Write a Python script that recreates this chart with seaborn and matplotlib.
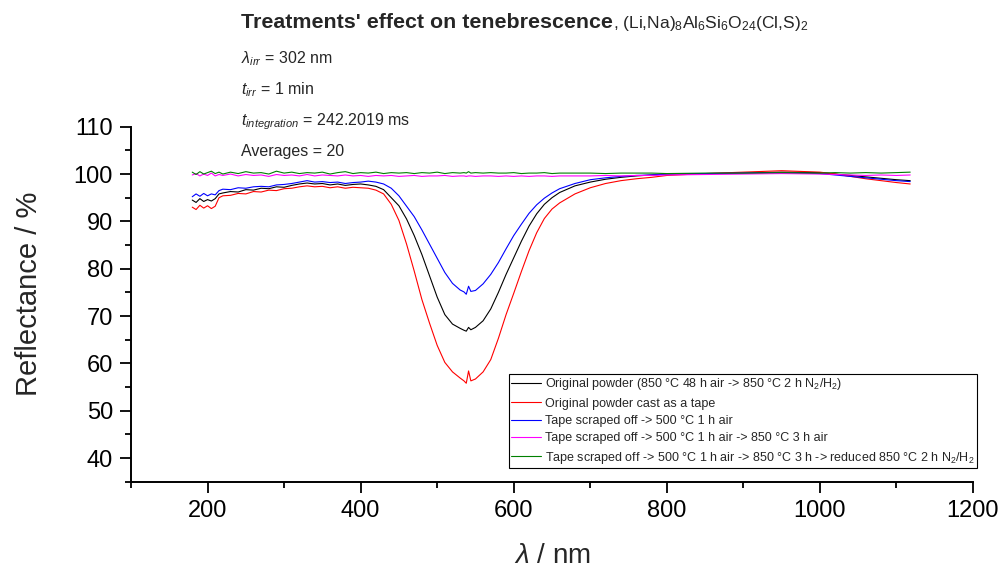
import numpy as np
import pandas as pd
import matplotlib
matplotlib.use("Agg")
import matplotlib.pyplot as plt
from matplotlib.ticker import MultipleLocator
import seaborn as sns

# wavelength grid (nm)
wl = [180, 185, 190, 195, 200, 205, 210, 215, 220, 230,
      240, 250, 260, 270, 280, 290, 300, 310, 320, 330,
      340, 350, 360, 370, 380, 390, 400, 410, 420, 430,
      440, 450, 460, 470, 480, 490, 500, 510, 520, 530,
      535, 538, 541, 544, 550, 560, 570, 580, 590, 600,
      610, 620, 630, 640, 650, 660, 680, 700, 720, 740,
      760, 780, 800, 850, 900, 950, 1000, 1020, 1040, 1060,
      1080, 1100, 1118]

# reflectance (%)
r_original = [94.5, 94.0, 94.8, 94.2, 94.6, 94.3, 94.8, 95.8, 96.0, 96.3,
              96.2, 96.7, 96.6, 97.0, 96.9, 97.3, 97.2, 97.6, 97.9, 98.1,
              97.9, 98.0, 97.7, 97.9, 97.6, 97.8, 97.9, 97.7, 97.4, 96.7,
              95.0, 93.3, 90.5, 87.0, 83.0, 78.5, 74.0, 70.3, 68.3, 67.4,
              67.0, 66.8, 67.6, 67.1, 67.6, 69.0, 71.5, 75.0, 78.8, 82.3,
              85.8, 89.0, 91.6, 93.6, 95.0, 96.1, 97.5, 98.3, 98.9, 99.3,
              99.6, 99.8, 100.0, 100.1, 100.2, 100.4, 100.3, 100.0, 99.7, 99.4,
              99.1, 98.8, 98.6]
r_tape = [93.0, 92.5, 93.4, 92.8, 93.3, 92.7, 93.2, 95.0, 95.4, 95.5,
          95.9, 95.8, 96.3, 96.2, 96.6, 96.5, 96.9, 97.0, 97.3, 97.5,
          97.3, 97.4, 97.1, 97.3, 97.0, 97.2, 97.1, 97.0, 96.6, 95.8,
          93.6, 90.2, 85.2, 79.5, 73.5, 68.5, 63.8, 60.2, 58.2, 56.9,
          56.3, 55.8, 58.4, 56.3, 56.7, 58.2, 60.8, 65.3, 70.3, 74.8,
          79.4, 83.8, 87.6, 90.6, 92.6, 93.9, 95.8, 97.1, 98.0, 98.6,
          99.0, 99.3, 99.7, 100.1, 100.4, 100.7, 100.4, 100.0, 99.5, 99.0,
          98.6, 98.2, 97.9]
r_500air = [95.2, 95.8, 95.3, 95.9, 95.4, 95.8, 95.6, 96.5, 96.8, 96.7,
            97.1, 97.0, 97.3, 97.4, 97.3, 97.7, 97.8, 98.0, 98.3, 98.6,
            98.3, 98.4, 98.2, 98.3, 98.0, 98.2, 98.3, 98.5, 98.3, 97.9,
            97.0, 95.4, 93.2, 91.0, 88.2, 85.2, 82.2, 79.2, 76.9, 75.5,
            75.1, 74.6, 76.3, 75.2, 75.4, 76.8, 78.8, 81.3, 84.2, 87.0,
            89.4, 91.7, 93.5, 94.9, 96.0, 96.9, 98.0, 98.8, 99.2, 99.5,
            99.7, 99.8, 100.0, 100.1, 100.2, 100.3, 100.1, 99.8, 99.5, 99.2,
            98.9, 98.6, 98.4]
r_850air = [99.8, 100.1, 99.6, 100.0, 99.7, 100.2, 99.6, 99.9, 99.7, 100.0,
            99.6, 99.9, 99.7, 99.8, 99.5, 99.9, 99.7, 99.8, 99.6, 99.9,
            99.6, 99.8, 99.7, 99.6, 99.8, 99.6, 99.7, 99.5, 99.7, 99.6,
            99.7, 99.5, 99.6, 99.7, 99.5, 99.6, 99.6, 99.7, 99.5, 99.6,
            99.6, 99.5, 99.6, 99.6, 99.5, 99.6, 99.6, 99.5, 99.6, 99.5,
            99.6, 99.5, 99.6, 99.6, 99.5, 99.6, 99.6, 99.6, 99.7, 99.6,
            99.7, 99.7, 99.8, 99.9, 100.0, 100.1, 100.0, 99.9, 99.8, 99.7,
            99.8, 99.7, 99.8]
r_reduced = [100.4, 99.9, 100.5, 100.0, 100.3, 100.6, 100.1, 100.4, 100.0, 100.4,
             100.1, 100.5, 100.2, 100.3, 100.0, 100.6, 100.2, 100.4, 100.1, 100.3,
             100.2, 100.4, 100.0, 100.3, 100.5, 100.1, 100.3, 100.2, 100.4, 100.1,
             100.3, 100.2, 100.3, 100.1, 100.3, 100.2, 100.4, 100.1, 100.3, 100.2,
             100.3, 100.2, 100.5, 100.2, 100.3, 100.2, 100.3, 100.2, 100.2, 100.3,
             100.1, 100.2, 100.2, 100.3, 100.1, 100.2, 100.2, 100.2, 100.1, 100.2,
             100.2, 100.2, 100.1, 100.2, 100.2, 100.3, 100.2, 100.3, 100.2, 100.3,
             100.2, 100.3, 100.4]

labels = [
    "Original powder (850 °C 48 h air -> 850 °C 2 h N$_2$/H$_2$)",
    "Original powder cast as a tape",
    "Tape scraped off -> 500 °C 1 h air",
    "Tape scraped off -> 500 °C 1 h air -> 850 °C 3 h air",
    "Tape scraped off -> 500 °C 1 h air -> 850 °C 3 h -> reduced 850 °C 2 h N$_2$/H$_2$",
]
series = [r_original, r_tape, r_500air, r_850air, r_reduced]
colors = ["#000000", "#ff0000", "#0000ff", "#ff00ff", "#008000"]

df = pd.concat([pd.DataFrame({"wl": wl, "R": s, "sample": lab})
                for s, lab in zip(series, labels)], ignore_index=True)

sns.set_style("ticks")
plt.rcParams["font.family"] = ["Liberation Sans", "DejaVu Sans"]
plt.rcParams["mathtext.fontset"] = "custom"
plt.rcParams["mathtext.rm"] = "Liberation Sans"
plt.rcParams["mathtext.it"] = "Liberation Sans:italic"
plt.rcParams["mathtext.bf"] = "Liberation Sans:bold"

W, H = 1003, 573
fig = plt.figure(figsize=(W / 100, H / 100), dpi=100)
ax = fig.add_axes([131 / W, 1 - 481.7 / H, 842 / W, 355 / H])

sns.lineplot(data=df, x="wl", y="R", hue="sample", hue_order=labels,
             palette=colors, linewidth=0.8, ax=ax, sort=False)

ax.set_xlim(100, 1200)
ax.set_ylim(35, 110)
ax.xaxis.set_major_locator(MultipleLocator(200))
ax.xaxis.set_minor_locator(MultipleLocator(100))
ax.yaxis.set_major_locator(MultipleLocator(10))
ax.yaxis.set_minor_locator(MultipleLocator(5))
ax.tick_params(which="major", length=8, width=1.3, labelsize=17, color="black",
               labelcolor="black", pad=5)
ax.tick_params(which="minor", length=4, width=1.3, color="black")
for side in ["top", "right"]:
    ax.spines[side].set_visible(False)
for side in ["left", "bottom"]:
    ax.spines[side].set_linewidth(1.4)
    ax.spines[side].set_color("black")

ax.set_xlabel(r"$\lambda$ / nm", fontsize=20)
ax.set_ylabel("Reflectance / %", fontsize=21)
ax.xaxis.set_label_coords(0.5, -0.172)
ax.yaxis.set_label_coords(-0.105, 0.53)

handles, labs = ax.get_legend_handles_labels()
leg = ax.legend(handles, labs, loc="lower right",
                bbox_to_anchor=(977 / W, 1 - 468 / H), bbox_transform=fig.transFigure,
                fontsize=9, frameon=True, fancybox=False, edgecolor="black",
                framealpha=1, borderpad=0.2, handlelength=2.4, handletextpad=0.3,
                labelspacing=0.42, borderaxespad=0)
leg.get_frame().set_linewidth(0.8)

# title and measurement info
x0 = 241 / W
t1 = fig.text(x0, 1 - 28 / H, "Treatments' effect on tenebrescence",
              fontsize=15.4, fontweight="bold", va="baseline")
fig.canvas.draw()
bb = t1.get_window_extent(fig.canvas.get_renderer())
fig.text(bb.x1 / W, 1 - 28 / H, r", (Li,Na)$_8$Al$_6$Si$_6$O$_{24}$(Cl,S)$_2$",
         fontsize=12.5, va="baseline")
fig.text(x0, 1 - 63 / H, r"$\lambda_{irr}$ = 302 nm", fontsize=11.5, va="baseline")
fig.text(x0, 1 - 94 / H, r"$t_{irr}$ = 1 min", fontsize=11.5, va="baseline")
fig.text(x0, 1 - 125 / H, r"$t_{integration}$ = 242.2019 ms", fontsize=11.5, va="baseline")
fig.text(x0, 1 - 156 / H, "Averages = 20", fontsize=11.5, va="baseline")

fig.savefig("out.png", dpi=100)
